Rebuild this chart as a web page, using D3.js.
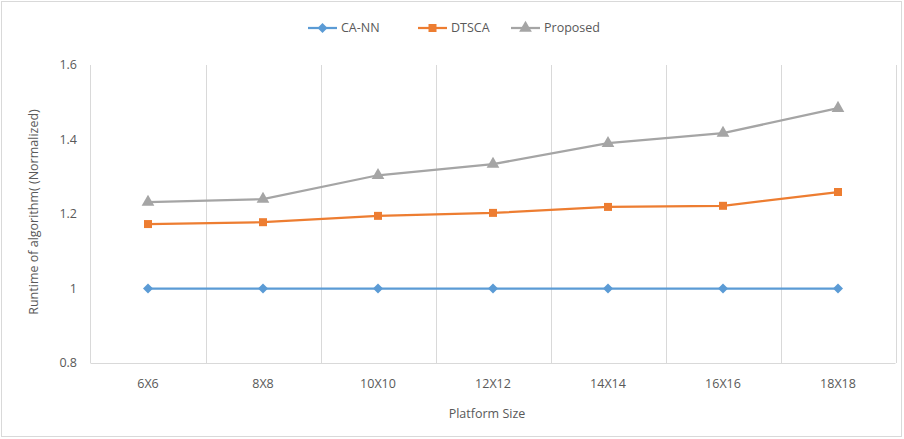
<!DOCTYPE html>
<html><head><meta charset="utf-8">
<script src="https://cdn.jsdelivr.net/npm/d3@7"></script>
<style>html,body{margin:0;padding:0;background:#fff;}svg{display:block;font-family:"Open Sans","Liberation Sans",sans-serif;}</style>
</head><body>
<svg id="c" width="904" height="439"></svg>
<script>
const categories = ["6X6","8X8","10X10","12X12","14X14","16X16","18X18"];
const caNN = [1,1,1,1,1,1,1];
const dtsca = [1.173,1.178,1.195,1.203,1.219,1.222,1.259];
const proposed = [1.232,1.240,1.304,1.334,1.390,1.417,1.484];
const yTicks = [0.8,1,1.2,1.4,1.6];
const seriesNames = ["CA-NN","DTSCA","Proposed"];
const colors = ["#5B9BD5","#ED7D31","#A5A5A5"];

const svg = d3.select("#c");
svg.append("rect").attr("x",1.5).attr("y",1.5).attr("width",900).attr("height",435)
  .attr("fill","#fff").attr("stroke","#d9d9d9");

const x = d3.scaleBand().domain(categories).range([90.5,895.5]);
const y = d3.scaleLinear().domain([0.8,1.6]).range([363,65]);
const textColor = "#595959";

const bounds = categories.map(c=>x(c)).concat([x.range()[1]]);
svg.append("g").selectAll("line").data(bounds.slice(1)).join("line")
  .attr("x1",d=>Math.round(d)+0.5).attr("x2",d=>Math.round(d)+0.5)
  .attr("y1",y(1.6)).attr("y2",y(0.8)).attr("stroke","#d9d9d9");
svg.append("line").attr("x1",90.5).attr("x2",90.5).attr("y1",y(1.6)).attr("y2",y(0.8)).attr("stroke","#d9d9d9");
svg.append("line").attr("x1",90.5).attr("x2",895.5).attr("y1",y(0.8)+0.5).attr("y2",y(0.8)+0.5).attr("stroke","#d9d9d9");

svg.append("g").selectAll("text").data(yTicks).join("text")
  .attr("x",77).attr("y",d=>y(d)).attr("dy","0.35em").attr("text-anchor","end")
  .attr("font-size",12.5).attr("fill",textColor).text(d=>d3.format("")(d));
svg.append("g").selectAll("text").data(categories).join("text")
  .attr("x",d=>x(d)+x.bandwidth()/2).attr("y",388).attr("text-anchor","middle")
  .attr("font-size",12.5).attr("fill",textColor).text(d=>d);

svg.append("text").attr("x",487).attr("y",418).attr("text-anchor","middle")
  .attr("font-size",12.5).attr("fill",textColor).text("Platform Size");
svg.append("text").attr("transform","translate(38,212) rotate(-90)").attr("text-anchor","middle")
  .attr("font-size",12.5).attr("fill",textColor).text("Runtime of algorithm( (Normalized)");

const data = [caNN,dtsca,proposed];
const cx = c=>x(c)+x.bandwidth()/2;
const line = d3.line().x((d,i)=>cx(categories[i])).y(d=>y(d));
const wideDiamond = {draw(ctx,size){const r=Math.sqrt(size)/2*1.2;ctx.moveTo(0,-r);ctx.lineTo(r,0);ctx.lineTo(0,r);ctx.lineTo(-r,0);ctx.closePath();}};
const shapes = [wideDiamond, d3.symbolSquare, d3.symbolTriangle];
const sizes = [70,64,70];

data.forEach((s,k)=>{
  svg.append("path").datum(s).attr("d",line).attr("fill","none")
    .attr("stroke",colors[k]).attr("stroke-width",2.25);
  svg.append("g").selectAll("path").data(s).join("path")
    .attr("transform",(d,i)=>`translate(${cx(categories[i])},${y(d)})`)
    .attr("d",d3.symbol().type(shapes[k]).size(sizes[k])).attr("fill",colors[k]);
});

const legX = [308,418,511];
seriesNames.forEach((n,k)=>{
  const g = svg.append("g").attr("transform",`translate(${legX[k]},28)`);
  g.append("line").attr("x1",0).attr("x2",29).attr("stroke",colors[k]).attr("stroke-width",2.25);
  g.append("path").attr("transform","translate(14.5,0)").attr("d",d3.symbol().type(shapes[k]).size(sizes[k])).attr("fill",colors[k]);
  g.append("text").attr("x",33).attr("dy","0.35em").attr("font-size",12.5).attr("fill",textColor).text(n);
});
</script>
</body></html>
